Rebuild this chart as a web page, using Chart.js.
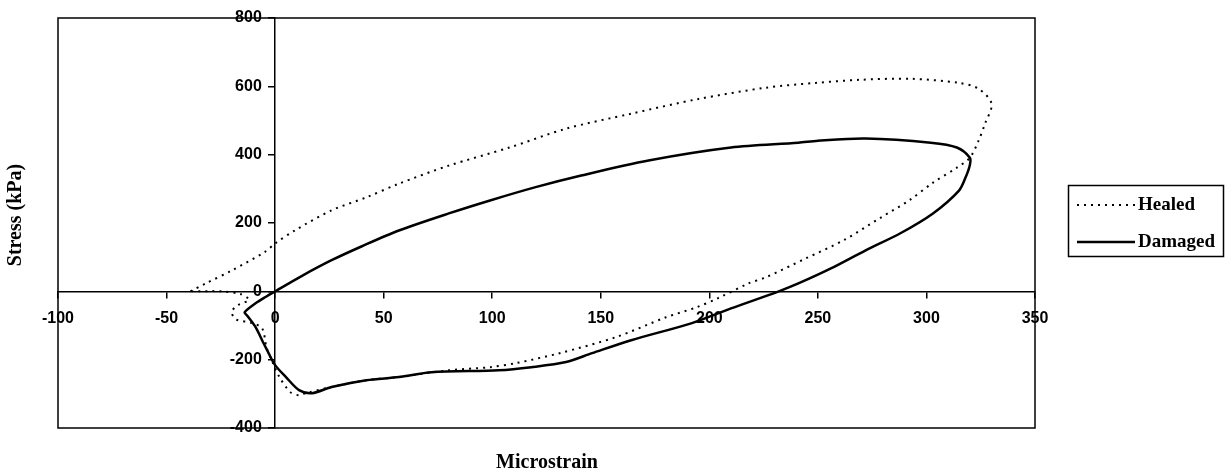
<!DOCTYPE html>
<html>
<head>
<meta charset="utf-8">
<script src="https://cdn.jsdelivr.net/npm/chart.js@4"></script>
<style>
  html, body { margin: 0; padding: 0; background: #fff; }
  #wrap { width: 1232px; height: 475px; }
</style>
</head>
<body>
<div id="wrap"><canvas id="myChart"></canvas></div>
<script>
const seriesNames = ["Healed", "Damaged"];

// Healed loop (dotted), traced point by point
const healedX = [-39,-32,-20,-5,0,9,26,42,57,80,108,134,164,195,226,249,269,293,315,324,330,327,324,320,314,303,292,279,262,244,226,218,204,194,180,157,131,111,99,80,57,42,26,14,11,7,2,-1,-4,-6,-11,-18,-20,-17,-12,-16,-25,-39];
const healedY = [0,23,61,114,140,178,237,275,315,368,421,476,520,563,596,610,619,622,610,593,549,491,441,391,362,318,266,216,150,95,41,23,-20,-47,-76,-134,-181,-210,-222,-231,-251,-260,-280,-298,-304,-295,-251,-210,-163,-108,-92,-82,-60,-40,-25,-8,0,0];

// Damaged loop (solid)
const damagedX = [0,12,26,40,57,80,99,120,141,172,210,241,250,272,302,314,320,320,318,315,303,288,272,256,241,232,210,192,164,146,134,118,103,72,57,42,26,17,11,5,0,-3,-6,-9,-13,-14,-9,-4,0];
const damagedY = [0,44,91,132,178,228,266,305,339,383,421,435,441,447,435,421,391,370,333,295,228,170,120,67,23,0,-50,-93,-143,-181,-207,-222,-231,-237,-251,-260,-280,-298,-289,-251,-216,-181,-143,-105,-70,-61,-35,-15,0];

const xTicks = [-100,-50,0,50,100,150,200,250,300,350];
const yTicks = [-400,-200,0,200,400,600,800];

function pts(xs, ys) {
  return xs.map((x, i) => ({x: x, y: ys[i]}));
}

const framePlugin = {
  id: "frame",
  afterDraw(chart) {
    const ctx = chart.ctx;
    const a = chart.chartArea;
    ctx.save();
    ctx.strokeStyle = "#000";
    ctx.lineWidth = 1.5;
    ctx.strokeRect(a.left, a.top, a.right - a.left, a.bottom - a.top);

    // axis titles
    ctx.fillStyle = "#000";
    ctx.font = "bold 20px 'Liberation Serif'";
    ctx.textAlign = "center";
    ctx.textBaseline = "middle";
    ctx.fillText("Microstrain", 547, 463);
    ctx.save();
    ctx.translate(16, 215);
    ctx.rotate(-Math.PI / 2);
    ctx.fillText("Stress (kPa)", 0, 0);
    ctx.restore();

    // legend box
    ctx.lineWidth = 1.5;
    ctx.strokeRect(1068.5, 185.5, 155, 71);
    const rows = [205, 242];
    chart.data.datasets.forEach((ds, i) => {
      ctx.beginPath();
      ctx.setLineDash(ds.borderDash || []);
      ctx.lineWidth = ds.borderWidth;
      ctx.moveTo(1077, rows[i]);
      ctx.lineTo(1135, rows[i]);
      ctx.stroke();
      ctx.setLineDash([]);
      ctx.font = "bold 19px 'Liberation Serif'";
      ctx.textAlign = "left";
      ctx.fillText(ds.label, 1138, rows[i]);
    });
    ctx.restore();
  }
};

new Chart("myChart", {
  type: "scatter",
  data: {
    datasets: [{
      label: seriesNames[0],
      data: pts(healedX, healedY),
      showLine: true,
      borderColor: "#000",
      borderWidth: 2,
      borderDash: [2, 5],
      pointRadius: 0,
      tension: 0.3
    },{
      label: seriesNames[1],
      data: pts(damagedX, damagedY),
      showLine: true,
      borderColor: "#000",
      borderWidth: 2.5,
      pointRadius: 0,
      tension: 0.3
    }]
  },
  options: {
    responsive: true,
    maintainAspectRatio: false,
    animation: false,
    layout: {padding: {left: 58, top: 18, right: 197, bottom: 47}},
    plugins: {
      legend: {display: false},
      tooltip: {enabled: false}
    },
    scales: {
      x: {
        type: "linear",
        position: {y: 0},
        min: -100, max: 350,
        afterBuildTicks: s => { s.ticks = xTicks.map(v => ({value: v})); },
        grid: {drawOnChartArea: false, tickLength: 6, color: "#000", lineWidth: 1.5},
        border: {color: "#000", width: 1.5},
        ticks: {color: "#000", padding: 12, maxRotation: 0, font: {family: "'Liberation Sans'", size: 16, weight: "bold"}}
      },
      y: {
        type: "linear",
        position: {x: 0},
        min: -400, max: 800,
        afterBuildTicks: s => { s.ticks = yTicks.map(v => ({value: v})); },
        grid: {drawOnChartArea: false, tickLength: 6, color: "#000", lineWidth: 1.5},
        border: {color: "#000", width: 1.5},
        // centre-positioned axis puts labels flush on the line, so pad them with spaces
        ticks: {color: "#000", callback: v => v + "   ", font: {family: "'Liberation Sans'", size: 16, weight: "bold"}}
      }
    }
  },
  plugins: [framePlugin]
});
</script>
</body>
</html>
